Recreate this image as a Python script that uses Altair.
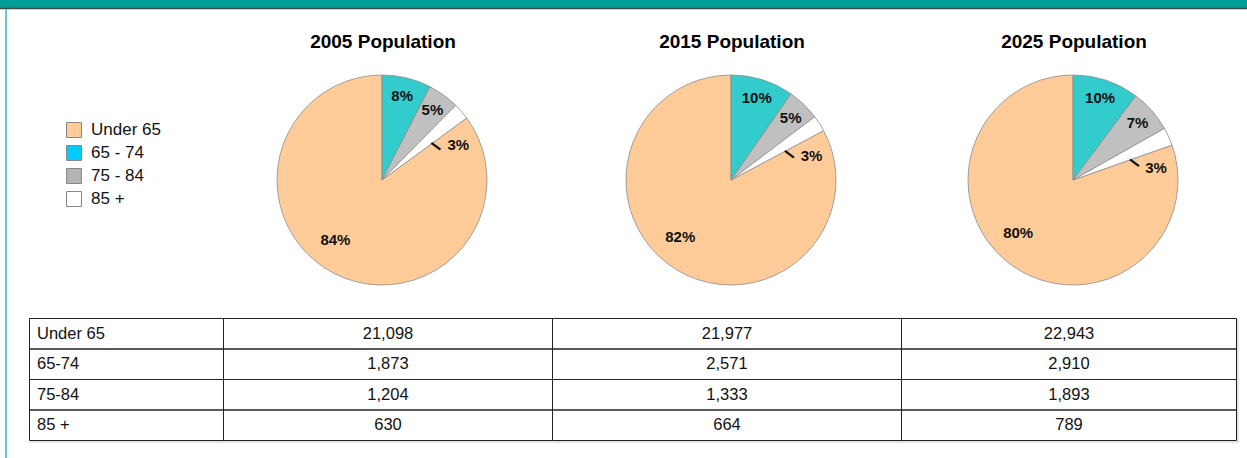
import altair as alt
import pandas as pd

# ---------------- data ----------------
years = ["2005", "2015", "2025"]
groups = ["Under 65", "65 - 74", "75 - 84", "85 +"]
table_rows = ["Under 65", "65-74", "75-84", "85 +"]
pop_2005 = [21098, 1873, 1204, 630]
pop_2015 = [21977, 2571, 1333, 664]
pop_2025 = [22943, 2910, 1893, 789]
pct_2005 = ["84%", "8%", "5%", "3%"]
pct_2015 = ["82%", "10%", "5%", "3%"]
pct_2025 = ["80%", "10%", "7%", "3%"]
slice_order = [4, 1, 2, 3]

pops = {"2005": pop_2005, "2015": pop_2015, "2025": pop_2025}
pcts = {"2005": pct_2005, "2015": pct_2015, "2025": pct_2025}

# ---------------- styles / layout ----------------
pie_colors = ["#FFCC99", "#33CCCC", "#C0C0C0", "#FFFFFF"]
legend_colors = ["#FFCC99", "#00CCFF", "#B4B4B4", "#FFFFFF"]
W, H = 1247, 458
FONT = "Liberation Sans"
centers = {"2005": 382, "2015": 731, "2025": 1073}
CY = 180
R = 105

rows = []
for yr in years:
    for g, v, p, o in zip(groups, pops[yr], pcts[yr], slice_order):
        rows.append({"year": yr, "group": g, "value": v, "pct": p, "ord": o})
pie_df = pd.DataFrame(rows)

layers = []

# decorative frame
one = pd.DataFrame({"k": [0]})
layers.append(alt.Chart(one).mark_rect(color="#009E99").encode(
    x=alt.value(0), x2=alt.value(W), y=alt.value(0), y2=alt.value(8)))
layers.append(alt.Chart(one).mark_rule(color="#3a4a4a", strokeWidth=1.5).encode(
    x=alt.value(0), x2=alt.value(W), y=alt.value(8.5)))
layers.append(alt.Chart(one).mark_rect(color="#66CCCC").encode(
    x=alt.value(5), x2=alt.value(7), y=alt.value(9), y2=alt.value(H)))

theta = alt.Theta("value:Q", stack="normalize")
order = alt.Order("ord:Q")

for yr in years:
    cx = centers[yr]
    base = alt.Chart(pie_df).transform_filter(alt.datum.year == yr)
    layers.append(base.mark_arc(radius=R, stroke="#8c8c8c", strokeWidth=0.8).encode(
        theta=theta, order=order,
        color=alt.Color("group:N", scale=alt.Scale(domain=groups, range=pie_colors), legend=None),
        x=alt.value(cx), y=alt.value(CY)))

    def lab(expr, radius, toff=0.0, **kw):
        props = dict(radius=radius, font=FONT, fontSize=15, fontWeight="bold", color="#111")
        if toff:
            props["thetaOffset"] = toff
        props.update(kw)
        return base.transform_calculate(lab=expr).mark_text(**props).encode(
            theta=theta, order=order, detail="group:N", text="lab:N",
            x=alt.value(cx), y=alt.value(CY))

    layers.append(lab("(datum.group == '65 - 74' || datum.group == '75 - 84') ? datum.pct : ''", 86))
    layers.append(lab("datum.group == 'Under 65' ? datum.pct : ''", 76, 0.19))
    layers.append(lab("datum.group == '85 +' ? datum.pct : ''", 84, 0.28))
    layers.append(lab("datum.group == '85 +' ? '\u2014' : ''", 64, 0.15, angle=36, fontSize=10,
                      stroke="#111", strokeWidth=1.2))

    layers.append(alt.Chart(pd.DataFrame({"t": [yr + " Population"]})).mark_text(
        font=FONT, fontSize=19, fontWeight="bold", color="#000").encode(
        text="t:N", x=alt.value(cx + 1), y=alt.value(42)))

# legend
leg_df = pd.DataFrame({"group": groups})
leg_y = alt.Y("group:N", scale=alt.Scale(type="point", domain=groups, range=[130, 199], padding=0), axis=None)
layers.append(alt.Chart(leg_df).mark_square(size=225, stroke="#888", strokeWidth=1, opacity=1).encode(
    x=alt.value(74), y=leg_y,
    fill=alt.Fill("group:N", scale=alt.Scale(domain=groups, range=legend_colors), legend=None)))
layers.append(alt.Chart(leg_df).mark_text(align="left", font=FONT, fontSize=17, color="#111").encode(
    x=alt.value(91), y=leg_y, text="group:N"))

# table
tab_df = pd.DataFrame({"row": table_rows, "v2005": pop_2005, "v2015": pop_2015, "v2025": pop_2025})
tab_y = alt.Y("row:N", scale=alt.Scale(type="band", domain=table_rows, range=[318.5, 440.5],
                                        paddingInner=0, paddingOuter=0), axis=None)
col_edges = [29.5, 223.5, 552.5, 901.5, 1236.5]
# faint shadow on right/bottom of table
layers.append(alt.Chart(one).mark_rule(color="#c8c8c8", strokeWidth=1).encode(
    x=alt.value(col_edges[-1] + 1.5), y=alt.value(319), y2=alt.value(442)))
layers.append(alt.Chart(one).mark_rule(color="#c8c8c8", strokeWidth=1).encode(
    x=alt.value(30), x2=alt.value(col_edges[-1] + 2), y=alt.value(442)))
for i in range(4):
    layers.append(alt.Chart(tab_df).mark_rect(fill="white", fillOpacity=0, stroke="#222", strokeWidth=1).encode(
        x=alt.value(col_edges[i]), x2=alt.value(col_edges[i + 1]), y=tab_y))
layers.append(alt.Chart(tab_df).mark_text(align="left", font=FONT, fontSize=16.5, color="#111").encode(
    x=alt.value(37), y=tab_y, text="row:N"))
for i, yr in enumerate(years):
    c = (col_edges[i + 1] + col_edges[i + 2]) / 2
    layers.append(alt.Chart(tab_df).mark_text(align="center", font=FONT, fontSize=16.5, color="#111").encode(
        x=alt.value(c), y=tab_y, text=alt.Text("v" + yr + ":Q", format=",")))

chart = alt.layer(*layers).resolve_scale(y="independent").properties(
    width=W, height=H, padding=0, autosize=alt.AutoSizeParams(type="none"),
    background="white").configure_view(stroke=None)

chart.save("out.html", embed_options={"renderer": "svg", "actions": False})
